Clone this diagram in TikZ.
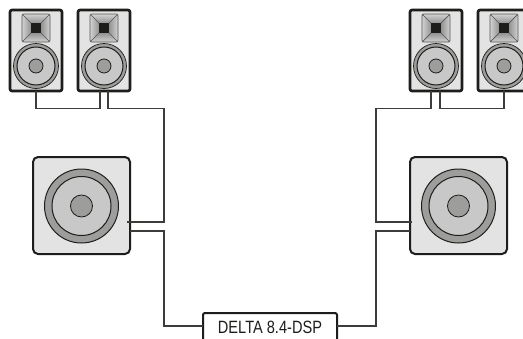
\documentclass[tikz,border=0pt]{standalone}
\usepackage{fontspec}
\setmainfont{Liberation Sans}[FakeStretch=0.82]
\definecolor{edge}{HTML}{1D1D1B}
\definecolor{wirecol}{HTML}{3C3C3B}
\definecolor{panel}{HTML}{E3E3E3}
\definecolor{ringcol}{HTML}{9D9D9C}
\definecolor{conecol}{HTML}{C8C8C8}
\tikzset{
  cabinet/.style={draw=edge, fill=panel, line width=2.6pt, rounded corners=2pt, inner sep=0pt, outer sep=0pt, minimum width=52pt, minimum height=81pt},
  subbox/.style={draw=edge, fill=panel, line width=2pt, rounded corners=5pt, inner sep=0pt, outer sep=0pt, minimum width=97pt, minimum height=97pt},
  dspbox/.style={draw=edge, fill=white, line width=2pt, rounded corners=2pt, inner sep=0pt, outer sep=0pt, minimum width=134pt, minimum height=32pt, text height=12pt, text depth=4pt, font=\fontsize{17.8}{18}\selectfont, text=edge},
  wire/.style={draw=wirecol, line width=1.2pt},
  ring/.style={draw=edge, fill=ringcol, line width=0.7pt},
  cone/.style={draw=edge, fill=conecol, line width=1pt},
  dome/.style={draw=edge, fill=ringcol, line width=0.8pt},
  hornline/.style={draw=edge!75, line width=0.7pt}
}
\begin{document}
\begin{tikzpicture}[x=1pt, y=-1pt]
  \clip (0,0) rectangle (523,338);
  % top cabinets
  \foreach \name/\xpos in {A/36, B/104, C/436, D/504} {
    \node[cabinet] (spk\name) at (\xpos,50.5) {};
    \shade[left color=gray!35, right color=gray!85] (\xpos-14,14) -- (\xpos-5,23) -- (\xpos-5,33) -- (\xpos-14,42) -- cycle;
    \shade[left color=gray!85, right color=gray!35] (\xpos+14,14) -- (\xpos+5,23) -- (\xpos+5,33) -- (\xpos+14,42) -- cycle;
    \shade[top color=gray!35, bottom color=gray!85] (\xpos-14,14) -- (\xpos+14,14) -- (\xpos+5,23) -- (\xpos-5,23) -- cycle;
    \shade[top color=gray!85, bottom color=gray!35] (\xpos-14,42) -- (\xpos+14,42) -- (\xpos+5,33) -- (\xpos-5,33) -- cycle;
    \draw[hornline, rounded corners=1.5pt] (\xpos-14,14) rectangle (\xpos+14,42);
    \draw[hornline] (\xpos-14,14) -- (\xpos-5,23) (\xpos+14,14) -- (\xpos+5,23) (\xpos-14,42) -- (\xpos-5,33) (\xpos+14,42) -- (\xpos+5,33);
    \fill[edge] (\xpos-5,23) rectangle (\xpos+5,33);
    \draw[ring] (\xpos,66) circle (22.5pt);
    \draw[cone] (\xpos,66) circle (19pt);
    \draw[dome] (\xpos,66) circle (7pt);
  }
  % subwoofers
  \foreach \name/\xpos in {L/81.5, R/458.5} {
    \node[subbox] (sub\name) at (\xpos,205.5) {};
    \draw[ring, line width=1pt] (\xpos,206) circle (37pt);
    \draw[cone] (\xpos,206) circle (29.5pt);
    \draw[dome] (\xpos,206) circle (11pt);
  }
  \node[dspbox] (dsp) at (270,329) {DELTA 8.4-DSP};
  \coordinate (busL) at (164,108.5);
  \coordinate (busR) at (376,108.5);
  \coordinate (feedL) at (164,326);
  \coordinate (feedR) at (376,326);
  % wiring
  \draw[wire] (spkA.south) |- ([xshift=-4pt]spkB.south |- busL) -- ([xshift=-4pt]spkB.south);
  \draw[wire] ([xshift=4pt]spkB.south) |- (busL) |- ([xshift=-3pt,yshift=-16.5pt]subL.east);
  \draw[wire] ([yshift=-25.5pt]subL.east) -| (feedL) -- (dsp.west |- feedL);
  \draw[wire] (spkD.south) |- ([xshift=4pt]spkC.south |- busR) -- ([xshift=4pt]spkC.south);
  \draw[wire] ([xshift=-5pt]spkC.south) |- (busR) |- ([xshift=2pt,yshift=-16.5pt]subR.west);
  \draw[wire] ([yshift=-25.5pt]subR.west) -| (feedR) -- (dsp.east |- feedR);
\end{tikzpicture}
\end{document}
